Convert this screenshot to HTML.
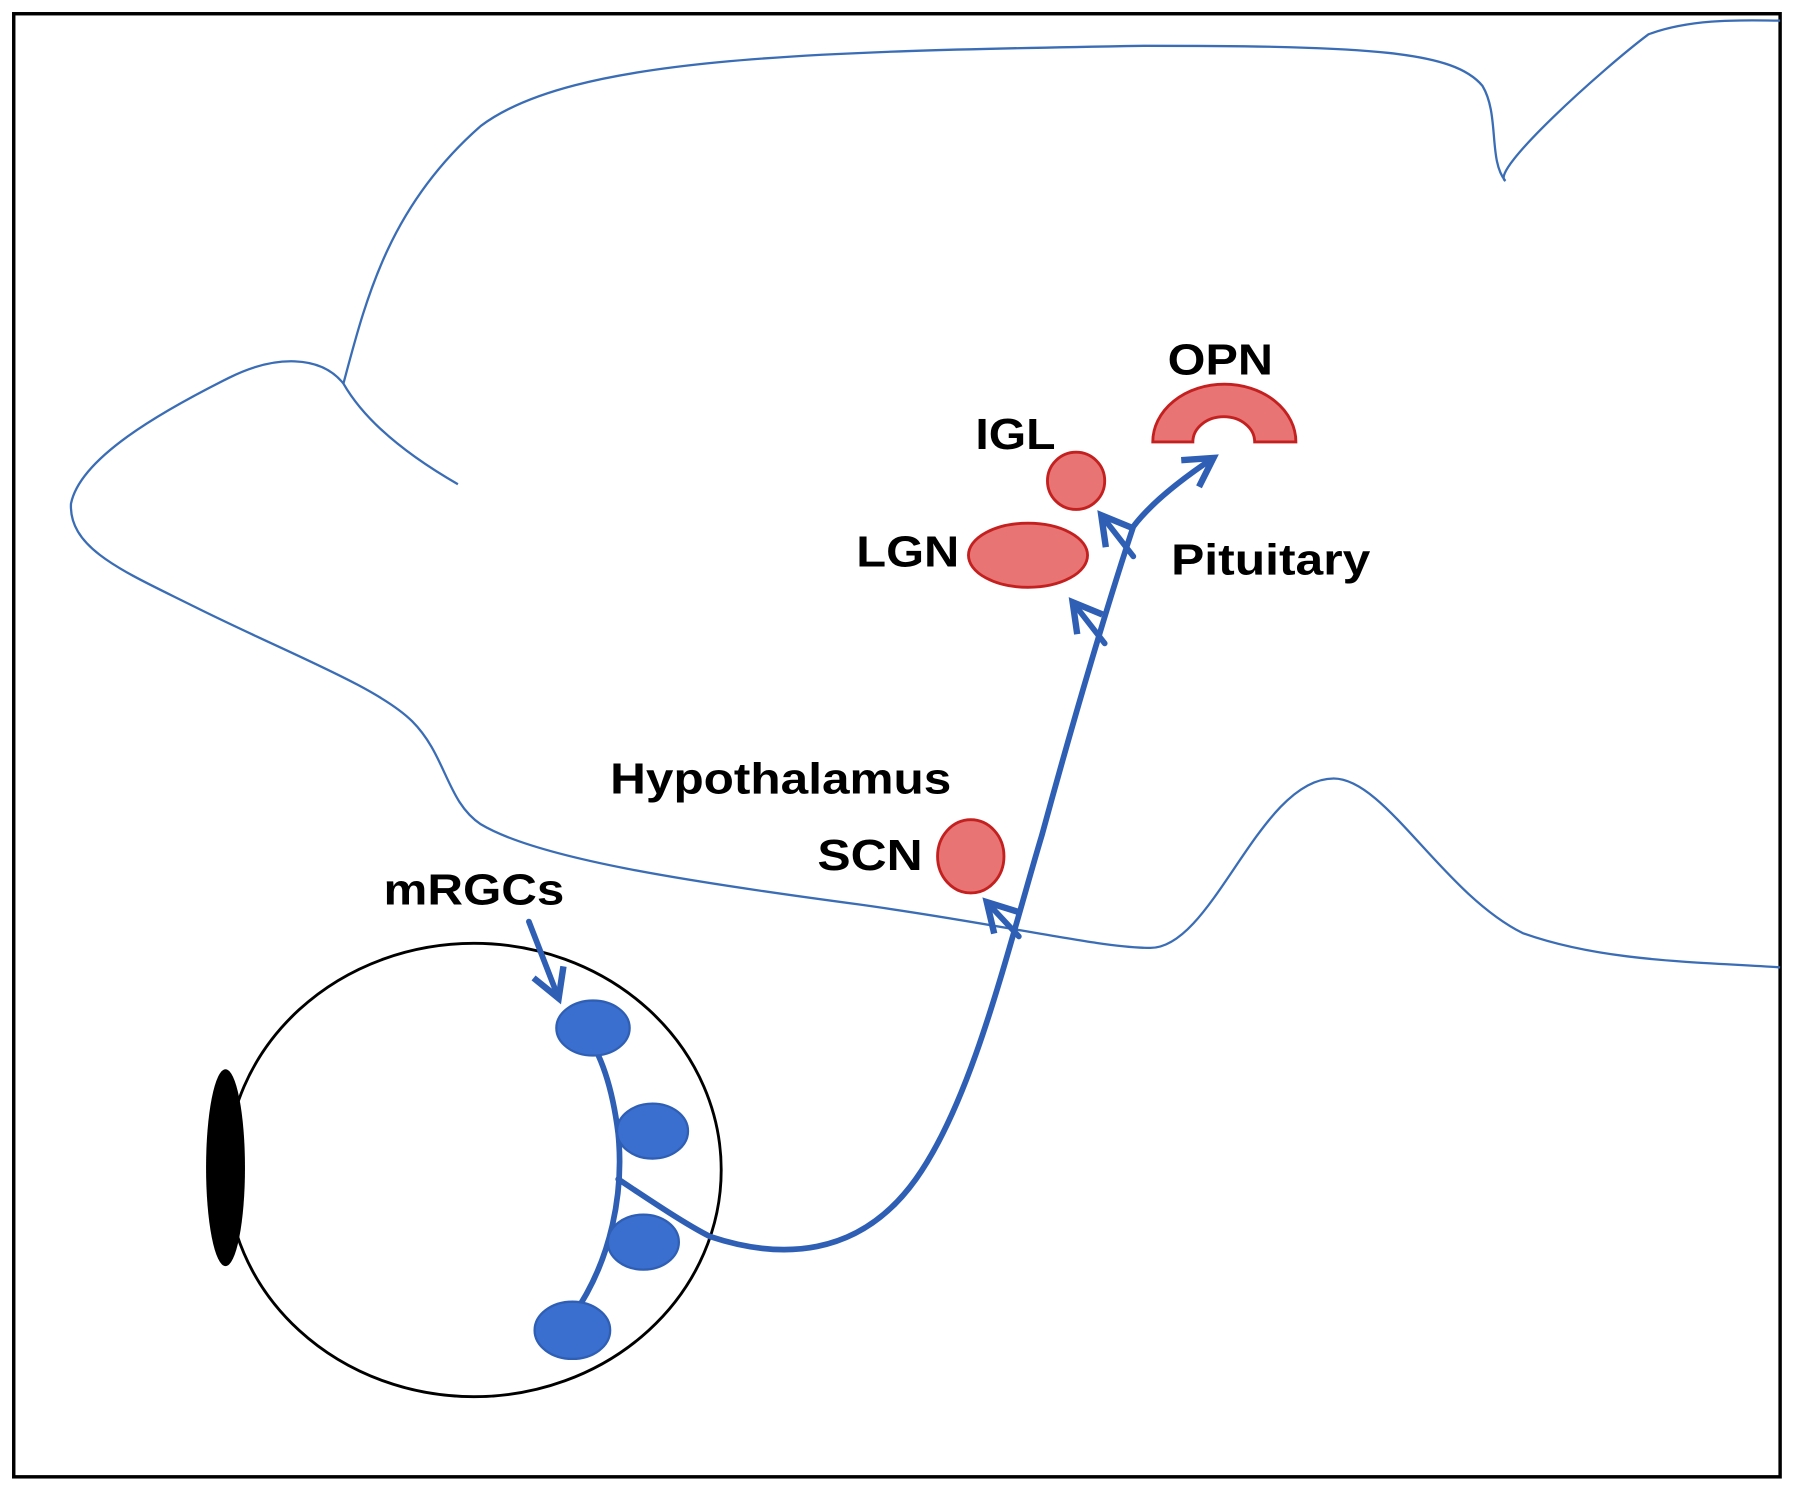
<!DOCTYPE html>
<html><head><style>html,body{margin:0;padding:0;background:#fff}svg{display:block}</style></head>
<body>
<svg width="1795" height="1494" viewBox="0 0 1568 1305" preserveAspectRatio="none" xmlns="http://www.w3.org/2000/svg">
<defs>
<marker id="ah" viewBox="0 0 10 10" refX="8" refY="5" markerWidth="7" markerHeight="7" orient="auto" markerUnits="strokeWidth">
<path d="M1,1 L8,5 L1,9" fill="none" stroke="#2e5fb5" stroke-width="1.6"/>
</marker>
</defs>
<rect x="12" y="12" width="1543" height="1278" fill="#fff" stroke="#000" stroke-width="3"/>
<g fill="none" stroke="#3a6db5" stroke-width="2">
<path d="M400,423 C360,400 320,370 300,335 C280,310 240,310 200,330 C140,360 70,400 62,440 C60,480 110,500 170,530 C250,570 330,600 360,630 C390,660 390,700 420,720 C470,750 600,770 750,790 C880,808 960,828 1005,828 C1060,828 1100,680 1165,680 C1210,680 1260,780 1330,815 C1400,840 1480,840 1555,845"/>
<path d="M300,335 C320,260 340,180 420,110 C500,50 700,45 1000,40 C1200,40 1270,45 1295,75 C1310,100 1300,140 1315,158 C1300,150 1400,60 1440,30 C1480,15 1530,18 1555,18"/>
</g>
<ellipse cx="414" cy="1022" rx="216" ry="198" fill="none" stroke="#000" stroke-width="2.5"/>
<ellipse cx="197" cy="1020" rx="17" ry="86" fill="#000"/>
<g fill="none" stroke="#2e5fb5" stroke-width="5" stroke-linecap="round">
<path d="M500,1150 C535,1100 545,1040 540,990 C535,950 525,920 510,900"/>
<path d="M540,1030 C570,1050 600,1070 620,1080 C680,1100 750,1100 800,1030 C850,960 880,830 910,730 C940,620 970,520 990,460 C1005,440 1030,420 1060,400" marker-end="url(#ah)"/>
<path d="M462,805 L488,872" marker-end="url(#ah)"/>
<path d="M890,818 L862,788" marker-end="url(#ah)"/>
<path d="M965,562 L937,526" marker-end="url(#ah)"/>
<path d="M990,486 L962,450" marker-end="url(#ah)"/>
</g>
<g fill="#3a6fd0" stroke="#2e5fb5" stroke-width="2">
<ellipse cx="518" cy="898" rx="32" ry="24"/>
<ellipse cx="570" cy="988" rx="31" ry="24"/>
<ellipse cx="562" cy="1085" rx="31" ry="24"/>
<ellipse cx="500" cy="1162" rx="33" ry="25"/>
</g>
<g fill="#e87474" stroke="#c42020" stroke-width="2.5">
<ellipse cx="848" cy="748" rx="29" ry="32"/>
<ellipse cx="898" cy="485" rx="52" ry="28"/>
<circle cx="940" cy="420" r="25"/>
<path d="M1007,386 A62,50 0 0 1 1132,386 L1096,386 A27,22 0 0 0 1042,386 Z"/>
</g>
<g font-family="Liberation Sans, Arial, sans-serif" font-weight="bold" font-size="38" fill="#000">
<text x="533" y="693" textLength="298" lengthAdjust="spacingAndGlyphs">Hypothalamus</text>
<text x="714" y="760" textLength="92" lengthAdjust="spacingAndGlyphs">SCN</text>
<text x="335" y="790" textLength="158" lengthAdjust="spacingAndGlyphs">mRGCs</text>
<text x="748" y="495" textLength="90" lengthAdjust="spacingAndGlyphs">LGN</text>
<text x="852" y="392" textLength="70" lengthAdjust="spacingAndGlyphs">IGL</text>
<text x="1020" y="327" textLength="92" lengthAdjust="spacingAndGlyphs">OPN</text>
<text x="1023" y="502" textLength="174" lengthAdjust="spacingAndGlyphs">Pituitary</text>
</g>
</svg>
</body></html>
